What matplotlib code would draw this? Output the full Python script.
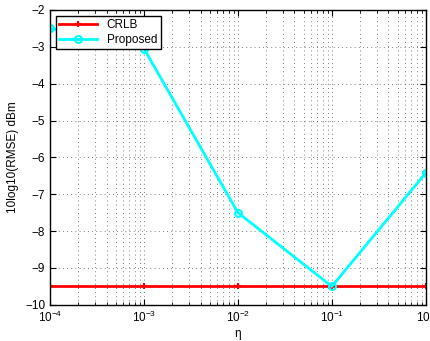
import numpy as np
import matplotlib.pyplot as plt

plt.rcParams['font.family'] = ['Liberation Sans', 'DejaVu Sans']

# -------------------------
# Data
# -------------------------
eta = [1e-4, 1e-3, 1e-2, 1e-1, 1e0]
crlb = [-9.5, -9.5, -9.5, -9.5, -9.5]
proposed = [-2.5, -3.05, -7.5, -9.5, -6.42]

# -------------------------
# Plot
# -------------------------
fig = plt.figure(figsize=(4.31, 3.41), dpi=100)
ax = fig.add_axes([0.116, 0.106, 0.872, 0.865])

ax.semilogx(eta, crlb, color='red', marker='+', markersize=5, mew=1.5,
            linewidth=2, label='CRLB')
ax.semilogx(eta, proposed, color='cyan', marker='o', markersize=5,
            mfc='none', mew=1.5, linewidth=2, label='Proposed')

ax.set_xlim(1e-4, 1)
ax.set_ylim(-10, -2)
ax.set_yticks(np.arange(-10, -1, 1))
ax.grid(True, which='both', linestyle=(0, (1, 4)), color='#555555', linewidth=0.6)
ax.tick_params(which='both', direction='in', labelsize=8.5, top=True, right=True)
ax.tick_params(which='major', length=4)
ax.tick_params(which='minor', length=2)

for s in ax.spines.values():
    s.set_linewidth(1.0)

ax.set_xlabel('η', fontsize=8.5, labelpad=2)
ax.set_ylabel('10log10(RMSE) dBm', fontsize=8.5)

leg = ax.legend(loc='upper left', fontsize=8.5, fancybox=False, framealpha=1,
                edgecolor='black', borderaxespad=0.5, handlelength=3.2,
                borderpad=0.3, labelspacing=0.2)
leg.get_frame().set_linewidth(1.0)

fig.savefig('out.png', dpi=100)
